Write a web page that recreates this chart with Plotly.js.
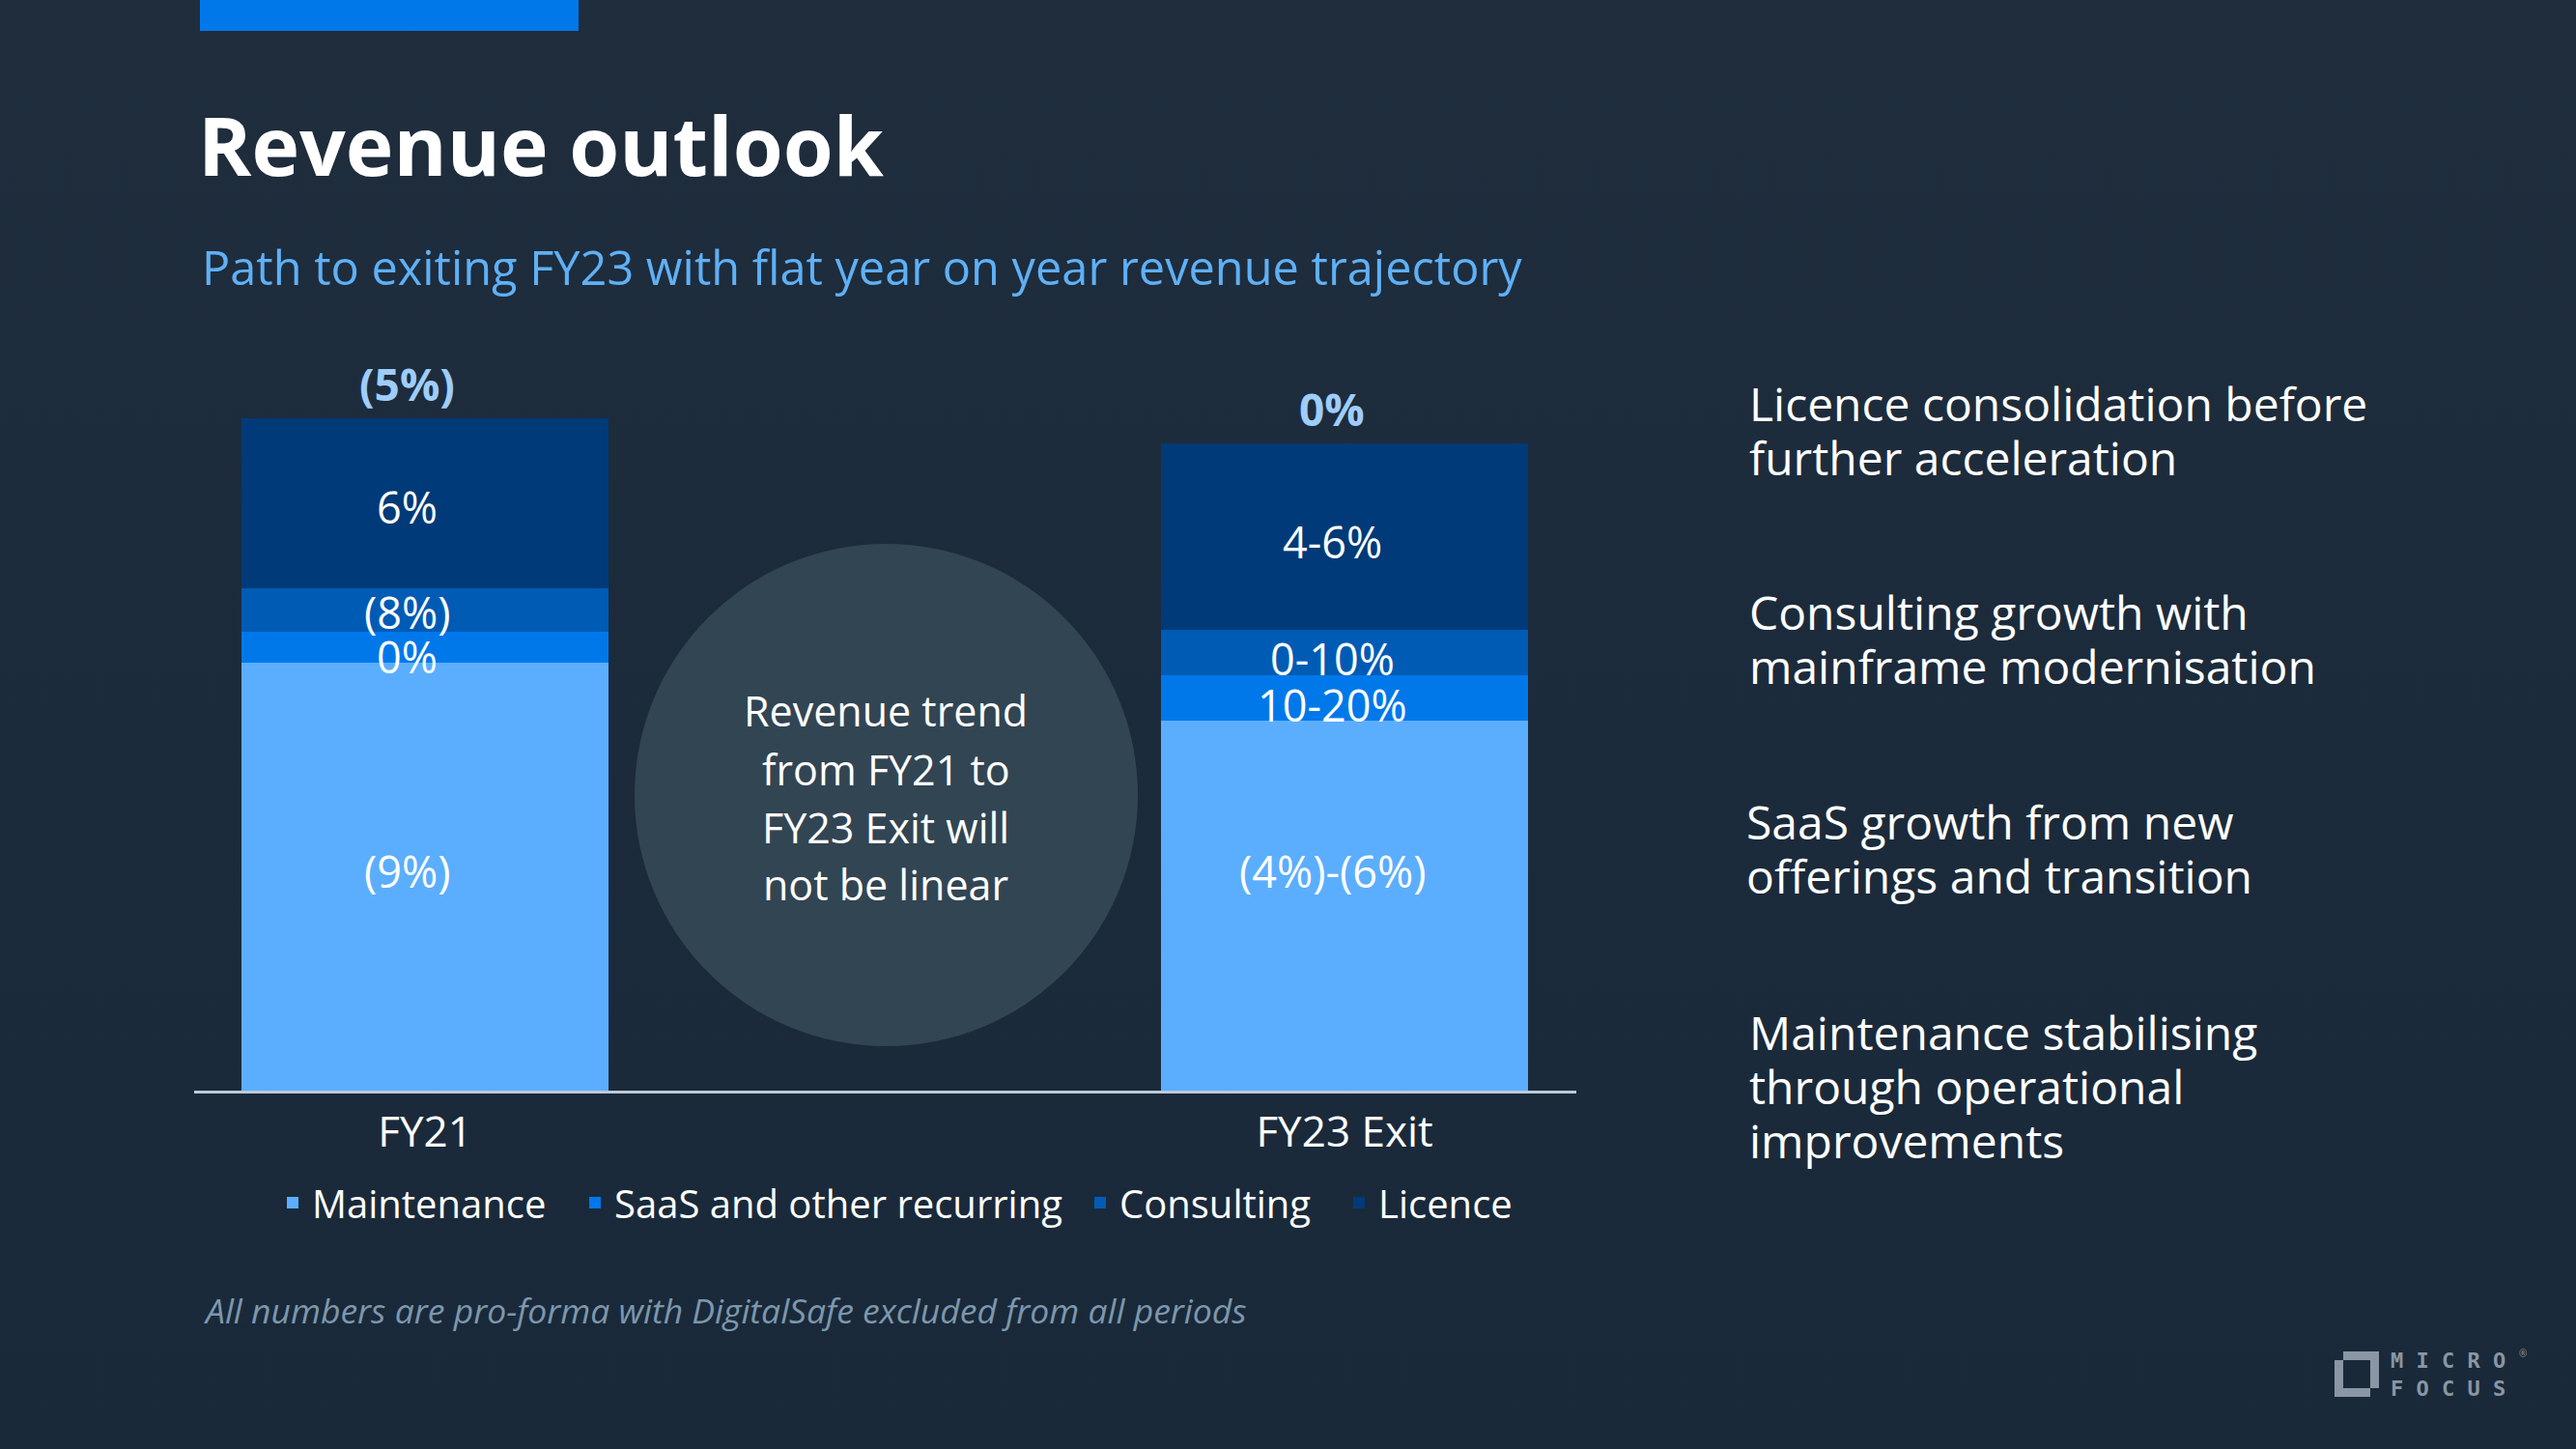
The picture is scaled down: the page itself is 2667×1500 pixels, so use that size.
<!DOCTYPE html>
<html>
<head>
<meta charset="utf-8">
<script src="https://cdn.plot.ly/plotly-3.0.1.min.js"></script>
<style>
html, body { margin:0; padding:0; width:2667px; height:1500px; overflow:hidden;
  background: linear-gradient(180deg, #1f2d3d 0%, #1c2b3b 50%, #19293a 100%); }
#chart { width:2667px; height:1500px; }
</style>
</head>
<body>
<div id="chart"></div>
<script>
// ---- Data ----
const categories = ["FY21", "FY23 Exit"];
const seriesNames = ["Maintenance", "SaaS and other recurring", "Consulting", "Licence"];
// relative revenue mix (FY21 total = 100)
const maintenance = [63.6, 55.0];
const saas        = [4.6, 6.8];
const consulting  = [6.5, 6.8];
const licence     = [25.3, 27.6];
// growth labels shown on each segment
const maintenanceLabels = ["(9%)", "(4%)-(6%)"];
const saasLabels        = ["0%", "10-20%"];
const consultingLabels  = ["(8%)", "0-10%"];
const licenceLabels     = ["6%", "4-6%"];
const totalLabels       = ["(5%)", "0%"];
const seriesColors = ["#5baefd", "#0078ea", "#005bb5", "#003a78"];

const circleLines = ["Revenue trend", "from FY21 to", "FY23 Exit will", "not be linear"];
const commentary = [
  ["Licence consolidation before", "further acceleration"],
  ["Consulting growth with", "mainframe modernisation"],
  ["SaaS growth from new", "offerings and transition"],
  ["Maintenance stabilising", "through operational", "improvements"]
];
const titleText = "Revenue outlook";
const subtitleText = "Path to exiting FY23 with flat year on year revenue trajectory";
const footnoteText = "All numbers are pro-forma with DigitalSafe excluded from all periods";

// ---- Layout geometry (pixels -> paper) ----
const L = 201, R = 1632, T = 329, B = 1129;
const PX = x => (x - L) / (R - L);
const PY = y => (B - y) / (B - T);
const FONT = "Open Sans, Noto Sans, sans-serif";

const seriesValues = [maintenance, saas, consulting, licence];
const seriesLabels = [maintenanceLabels, saasLabels, consultingLabels, licenceLabels];
const legendIds = ["legend", "legend2", "legend3", "legend4"];
const legendTextStart = [323, 636, 1159, 1427];

// label placement tweaks (pixels): horizontal per category, vertical per series/category (+ = up)
const labelXShift = [-18, -13];
const labelYShift = [[6, 36], [-9, -7], [-2, -6], [-3, -5]];

const traces = seriesNames.map((name, i) => ({
  type: "bar",
  name: name,
  x: categories,
  y: seriesValues[i],
  marker: { color: seriesColors[i], line: { width: 0 } },
  width: 0.4,
  legend: legendIds[i],
  hoverinfo: "skip"
}));

const annotations = [];
// segment labels, centred on each stacked segment
categories.forEach((c, j) => {
  let base = 0;
  seriesValues.forEach((arr, i) => {
    annotations.push({
      x: c, y: base + arr[j] / 2, xref: "x", yref: "y",
      text: seriesLabels[i][j], showarrow: false,
      xanchor: "center", yanchor: "middle",
      xshift: labelXShift[j], yshift: labelYShift[i][j],
      font: { family: FONT, size: 45, color: "#ffffff" }
    });
    base += arr[j];
  });
  // total above bar
  annotations.push({
    x: c, y: base, xref: "x", yref: "y",
    text: totalLabels[j], showarrow: false,
    xanchor: "center", yanchor: "middle", yshift: 36, xshift: labelXShift[j],
    font: { family: FONT, size: 46, color: "#9ecdfa", weight: 700 }
  });
});
// subtitle
annotations.push({
  x: PX(207), y: PY(276), xref: "paper", yref: "paper",
  xanchor: "left", yanchor: "middle", showarrow: false,
  text: subtitleText,
  font: { family: FONT, size: 48.7, color: "#5fb0f5" }
});
// footnote
annotations.push({
  x: PX(209), y: PY(1356), xref: "paper", yref: "paper",
  xanchor: "left", yanchor: "middle", showarrow: false,
  text: footnoteText,
  font: { family: FONT, size: 35.5, color: "#7d97ac", style: "italic" }
});
// circle text
const circleY = [735, 796, 856, 915];
circleLines.forEach((t, k) => {
  annotations.push({
    x: PX(917), y: PY(circleY[k]), xref: "paper", yref: "paper",
    xanchor: "center", yanchor: "middle", showarrow: false,
    text: t, font: { family: FONT, size: 43, color: "#ffffff" }
  });
});
// commentary on the right
const commentY = [[417, 473], [633, 689], [850, 907], [1068, 1124, 1180]];
const commentX = [1809, 1809, 1806, 1809];
commentary.forEach((block, b) => {
  block.forEach((line, k) => {
    annotations.push({
      x: PX(commentX[b]), y: PY(commentY[b][k]), xref: "paper", yref: "paper",
      xanchor: "left", yanchor: "middle", showarrow: false,
      text: line, font: { family: FONT, size: 48, color: "#ffffff" }
    });
  });
});
// logo text
annotations.push({ x: PX(2473), y: PY(1423), xref: "paper", yref: "paper", xanchor: "left", yanchor: "middle",
  showarrow: false, align: "left", text: "M I C R O<br>F O C U S",
  font: { family: "DejaVu Sans Mono, monospace", size: 22, color: "#8a96a3", weight: 700 } });
annotations.push({ x: PX(2606), y: PY(1401), xref: "paper", yref: "paper", xanchor: "left", yanchor: "middle",
  showarrow: false, text: "®", font: { family: FONT, size: 10, color: "#8a96a3" } });

const rectPx = (x0, y0, x1, y1, color, layer) => ({
  type: "rect", xref: "paper", yref: "paper",
  x0: PX(x0), x1: PX(x1), y0: PY(y1), y1: PY(y0),
  fillcolor: color, line: { width: 0 }, layer: layer || "above"
});

const shapes = [
  // accent bar at top
  rectPx(207, -5, 599, 32, "#0078ea"),
  // central circle
  { type: "circle", xref: "paper", yref: "paper",
    x0: PX(657), x1: PX(1178), y0: PY(1083), y1: PY(563),
    fillcolor: "#324553", line: { width: 0 }, layer: "below" },
  // logo mark
  rectPx(2426, 1399, 2463, 1437, "#8a96a3"),
  rectPx(2417, 1408, 2454, 1446, "#8a96a3"),
  rectPx(2426, 1408, 2454, 1437, "#1a2939")
];

const legendBase = {
  orientation: "h", xanchor: "left", yanchor: "middle",
  bgcolor: "rgba(0,0,0,0)", borderwidth: 0,
  font: { family: FONT, size: 40, color: "#ffffff" },
  traceorder: "normal"
};

const layout = {
  width: 2667, height: 1500,
  paper_bgcolor: "rgba(0,0,0,0)", plot_bgcolor: "rgba(0,0,0,0)",
  margin: { l: L, r: 2667 - R, t: T, b: 1500 - B, pad: 0 },
  barmode: "stack",
  showlegend: true,
  title: {
    text: titleText, xref: "paper", x: PX(205), xanchor: "left",
    yref: "container", y: 1 - 153 / 1500, yanchor: "middle",
    font: { family: FONT, size: 84, color: "#ffffff", weight: 700 }
  },
  xaxis: {
    type: "category", range: [-0.251, 1.252],
    showline: true, linecolor: "#bccad8", linewidth: 3,
    ticks: "", showgrid: false, zeroline: false, ticklabelstandoff: 2,
    tickfont: { family: FONT, size: 44, color: "#ffffff" },
    fixedrange: true
  },
  yaxis: { visible: false, range: [0, 114.94], showgrid: false, zeroline: false, fixedrange: true },
  annotations: annotations,
  shapes: shapes
};
legendIds.forEach((id, i) => {
  layout[id] = Object.assign({}, legendBase, { x: PX(legendTextStart[i] - 40), y: PY(1245) });
});

Plotly.newPlot("chart", traces, layout, { displayModeBar: false, staticPlot: true });
</script>
</body>
</html>
